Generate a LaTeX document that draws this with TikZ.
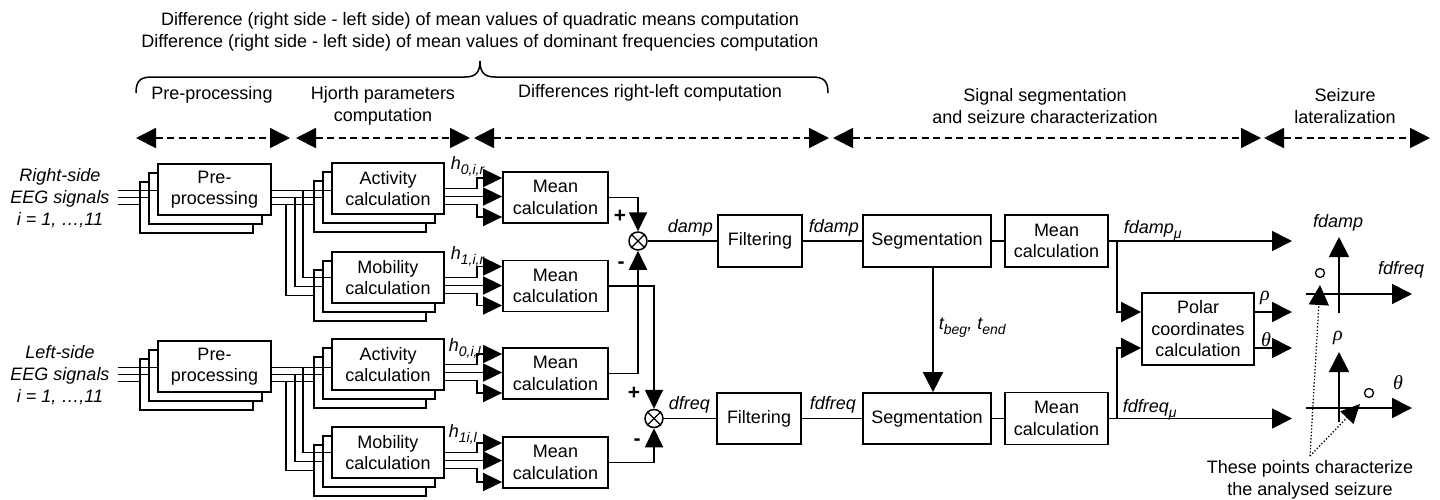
\documentclass[tikz,border=0pt]{standalone}
\usepackage{fontspec}
\setmainfont{Liberation Sans}
\newfontfamily\grk{Liberation Serif}
\usetikzlibrary{arrows.meta,calc}
\newcommand{\sbs}[1]{\raisebox{-0.3em}{\fontsize{14}{14}\selectfont #1}}
\begin{document}
\begin{tikzpicture}[x=1pt,y=-1pt, line width=1.8pt,
  every node/.style={font=\fontsize{18}{21.5}\selectfont},
  blk/.style={draw, fill=white, align=center, inner sep=0pt, line width=1.8pt},
  pre/.style={blk, minimum width=113pt, minimum height=51pt},
  hj/.style={blk, minimum width=112pt, minimum height=51pt},
  mean/.style={blk, minimum width=105pt, minimum height=51pt},
  arr/.style={-{Triangle[length=19pt,width=18pt]}},
  barr/.style={-{Triangle[length=20pt,width=20pt]}},
  phase/.style={dash pattern=on 7pt off 4.5pt, {Triangle[length=20pt,width=20pt]}-{Triangle[length=20pt,width=20pt]}},
  lab/.style={font=\fontsize{18}{21.5}\selectfont\itshape, inner sep=0pt},
  txt/.style={align=center, inner sep=0pt},
  sgn/.style={inner sep=0pt, font=\fontsize{21}{21}\selectfont\bfseries},
  cmb/.style={draw, circle, minimum size=18pt, inner sep=0pt, fill=white, line width=1.5pt}
]
\useasboundingbox (0,0) rectangle (1440,499);

% heading and brace
\node[txt] (head) at (480,32) {Difference (right side - left side) of mean values of quadratic means computation\\Difference (right side - left side) of mean values of dominant frequencies computation};
\draw[line width=1.5pt] (136,93) .. controls (136,81) and (140,77) .. (152,77) -- (465,77) .. controls (476,77) and (480,72) .. (480,61) .. controls (480,72) and (484,77) .. (495,77) -- (812,77) .. controls (824,77) and (828,81) .. (828,93);

% phase labels
\node[txt] (ph1) at (212,95) {Pre-processing};
\node[txt] (ph2) at (383,106) {Hjorth parameters\\computation};
\node[txt] (ph3) at (650,93) {Differences right-left computation};
\node[txt] (ph4) at (1045,106) {Signal segmentation\\and seizure characterization};
\node[txt] (ph5) at (1345,106) {Seizure\\lateralization};
\coordinate (d1a) at (136,138); \coordinate (d1b) at (290,138);
\coordinate (d2a) at (296,138); \coordinate (d2b) at (470,138);
\coordinate (d3a) at (474,138); \coordinate (d3b) at (829,138);
\coordinate (d4a) at (833,138); \coordinate (d4b) at (1261,138);
\coordinate (d5a) at (1264,138); \coordinate (d5b) at (1430,138);
\draw[phase] (d1a) -- (d1b);
\draw[phase] (d2a) -- (d2b);
\draw[phase] (d3a) -- (d3b);
\draw[phase] (d4a) -- (d4b);
\draw[phase] (d5a) -- (d5b);

% input texts
\node[txt, font=\fontsize{18}{22}\selectfont\itshape] (rin) at (60,198) {Right-side\\EEG signals\\i = 1, …,11};
\node[txt, font=\fontsize{18}{22}\selectfont\itshape] (lin) at (60,375) {Left-side\\EEG signals\\i = 1, …,11};

% h labels
\node[lab, anchor=base west] (h0r) at (450,169) {h\sbs{0,i,r}};
\node[lab, anchor=base west] (h1r) at (450,259) {h\sbs{1,i,r}};
\node[lab, anchor=base west] (h0l) at (448,351) {h\sbs{0,i,l}};
\node[lab, anchor=base west] (h1l) at (448,437) {h\sbs{1i,l}};

\coordinate (inx) at (118,0);
\coordinate (xa) at (303,0);
\coordinate (xb) at (295,0);
\coordinate (xc) at (286,0);
\coordinate (xt) at (477,0);

\foreach \s/\py/\ay/\my/\ma/\mb in {R/189.5/188.5/277.5/197.5/286, L/366.5/364.5/452.5/373.5/462.5}{
  \node[pre] (pre\s3) at (196.5,\py+18) {};
  \node[pre] (pre\s2) at (205.5,\py+9) {};
  \node[pre] (pre\s1) at (214.5,\py) {Pre-\\processing};
  \node[hj] (act\s3) at (370,\ay+18) {};
  \node[hj] (act\s2) at (379,\ay+9) {};
  \node[hj] (act\s1) at (388,\ay) {Activity\\calculation};
  \node[hj] (mob\s3) at (370,\my+18) {};
  \node[hj] (mob\s2) at (379,\my+9) {};
  \node[hj] (mob\s1) at (388,\my) {Mobility\\calculation};
  \node[mean] (mean\s1) at (555.5,\ma) {Mean\\calculation};
  \node[mean] (mean\s2) at (555.5,\mb) {Mean\\calculation};
  % inputs
  \path ($(pre\s1.west)+(0,1)$) coordinate (i\s1)
        ($(pre\s1.west)+(0,8)$) coordinate (i\s2)
        ($(pre\s1.west)+(0,15)$) coordinate (i\s3);
  \draw (i\s1 -| inx) -- (i\s1);
  \draw (i\s2 -| inx) -- (i\s2 -| pre\s2.west);
  \draw (i\s3 -| inx) -- (i\s3 -| pre\s3.west);
  % outputs of pre-processing
  \path ($(pre\s1.east)+(0,1)$) coordinate (o\s1)
        ($(pre\s1.east)+(0,8)$) coordinate (o\s2)
        ($(pre\s1.east)+(0,15)$) coordinate (o\s3);
  \draw (o\s1) -- (o\s1 -| act\s1.west);
  \draw (o\s2) -- (o\s2 -| act\s2.west);
  \draw (o\s3) -- (o\s3 -| act\s3.west);
  \draw (o\s1 -| xa) |- (mob\s1.west);
  \draw (o\s2 -| xb) |- (mob\s2.west);
  \draw (o\s3 -| xc) |- (mob\s3.west);
  % activity -> mean
  \path ($(act\s1.east)+(0,8)$) coordinate (a\s2)
        ($(act\s1.east)+(0,16)$) coordinate (a\s3);
  \draw[arr] (act\s1.east) -- (act\s1.east -| xt) |- ($(mean\s1.west)+(0,-19.5)$);
  \draw[arr] (a\s2) -- (a\s2 -| mean\s1.west);
  \draw[arr] (a\s3) -- (a\s3 -| xt) |- ($(mean\s1.west)+(0,19.5)$);
  % mobility -> mean
  \path ($(mob\s1.east)+(0,8)$) coordinate (b\s2)
        ($(mob\s1.east)+(0,16)$) coordinate (b\s3);
  \draw[arr] (mob\s1.east) -- (mob\s1.east -| xt) |- ($(mean\s2.west)+(0,-19.5)$);
  \draw[arr] (b\s2) -- (b\s2 -| mean\s2.west);
  \draw[arr] (b\s3) -- (b\s3 -| xt) |- ($(mean\s2.west)+(0,19.5)$);
}

% combiners
\node[cmb] (cR) at (638,241) {};
\node[cmb] (cL) at (654,418.5) {};
\draw[line width=1.3pt] (cR.north east) -- (cR.south west) (cR.north west) -- (cR.south east);
\draw[line width=1.3pt] (cL.north east) -- (cL.south west) (cL.north west) -- (cL.south east);
\node[sgn] (pR) at (620,216) {+};
\node[sgn] (mR) at (621,265) {-};
\node[sgn] (pL) at (634,393) {+};
\node[sgn] (mL) at (637,442) {-};
\draw[arr] (meanR1.east) -| (cR.north);
\draw[arr] (meanL1.east) -| (cR.south);
\draw[arr] (meanR2.east) -| (cL.north);
\draw[arr] (meanL2.east) -| (cL.south);

% filtering and segmentation
\node[blk, minimum width=84pt, minimum height=52pt] (filtR) at (760,241) {Filtering};
\node[blk, minimum width=84pt, minimum height=51pt] (filtL) at (759,418.5) {Filtering};
\node[blk, minimum width=128pt, minimum height=52pt] (segR) at (927,241) {Segmentation};
\node[blk, minimum width=128pt, minimum height=51pt] (segL) at (927,418.5) {Segmentation};
\draw (cR.east) -- (filtR.west);
\draw (filtR.east) -- (segR.west);
\draw (cL.east) -- (filtL.west);
\draw (filtL.east) -- (segL.west);
\node[lab, anchor=base west] (ldamp) at (667,232) {damp};
\node[lab, anchor=base west] (lfdamp) at (808,232) {fdamp};
\node[lab, anchor=base west] (ldfreq) at (668,409) {dfreq};
\node[lab, anchor=base west] (lfdfreq) at (809,409) {fdfreq};
\coordinate (tx) at (933,0);
\draw[barr] (segR.south -| tx) -- (segL.north -| tx);
\node[lab, anchor=base west] (tb) at (938,329) {t\sbs{beg}, t\sbs{end}};

% mean calc right
\node[mean, minimum width=103pt, minimum height=52pt] (meanR3) at (1056.5,241) {Mean\\calculation};
\node[mean, minimum width=103pt, minimum height=52pt] (meanL3) at (1056.5,418.5) {Mean\\calculation};
\draw (segR.east) -- (meanR3.west);
\draw (segL.east) -- (meanL3.west);
\node[blk, minimum width=112pt, minimum height=72pt] (polar) at (1198,329) {Polar\\coordinates\\calculation};

\coordinate (bx) at (1117,0);
\coordinate (ex) at (1292,0);
\draw[barr] (meanR3.east) -- (meanR3.east -| ex);
\draw[barr] (meanL3.east) -- (meanL3.east -| ex);
\draw[barr] (meanR3.east -| bx) |- ($(polar.west)+(0,-17)$);
\draw[barr] (meanL3.east -| bx) |- ($(polar.west)+(0,19)$);
\path ($(polar.east)+(0,-17)$) coordinate (pe1) ($(polar.east)+(0,19)$) coordinate (pe2);
\draw[barr] (pe1) -- (pe1 -| ex);
\draw[barr] (pe2) -- (pe2 -| ex);
\node[lab, anchor=base west] (lfdm) at (1123,233) {fdamp\sbs{μ}};
\node[lab, anchor=base west] (lfdf) at (1122,412) {fdfreq\sbs{μ}};
\node[inner sep=0pt, font=\fontsize{20}{20}\selectfont] (lrho) at (1265,298) {\grk\itshape ρ};
\node[inner sep=0pt, font=\fontsize{20}{20}\selectfont] (lth) at (1266,340) {\grk\itshape θ};

% plots
\coordinate (v1a) at (1339,313); \coordinate (v1b) at (1339,237);
\coordinate (h1a) at (1306,294); \coordinate (h1b) at (1412,294);
\coordinate (v2a) at (1339,422); \coordinate (v2b) at (1339,352);
\coordinate (h2a) at (1306,408); \coordinate (h2b) at (1412,408);
\draw[barr] (v1a) -- (v1b);
\draw[barr] (h1a) -- (h1b);
\draw[barr] (v2a) -- (v2b);
\draw[barr] (h2a) -- (h2b);
\node[lab] (afdamp) at (1338,223) {fdamp};
\node[lab] (afdfreq) at (1401,270) {fdfreq};
\node[inner sep=0pt, font=\fontsize{20}{20}\selectfont] (arho) at (1338,338) {\grk\itshape ρ};
\node[inner sep=0pt, font=\fontsize{20}{20}\selectfont] (ath) at (1398,383) {\grk\itshape θ};
\node[draw, circle, minimum size=9pt, inner sep=0pt, line width=1.3pt] (pt1) at (1320,273) {};
\node[draw, circle, minimum size=9pt, inner sep=0pt, line width=1.3pt] (pt2) at (1369,393) {};
\node[txt] (note) at (1310,480) {These points characterize\\the analysed seizure};
\coordinate (ns) at (1310,456);
\coordinate (tip1) at (1320,285);
\coordinate (tip2) at (1360,404);
\draw[dotted, line width=1.3pt, -{Triangle[length=20pt,width=20pt]}] (ns) -- (tip1);
\draw[dotted, line width=1.3pt, -{Triangle[length=19pt,width=18pt]}] (ns) -- (tip2);
\end{tikzpicture}
\end{document}
